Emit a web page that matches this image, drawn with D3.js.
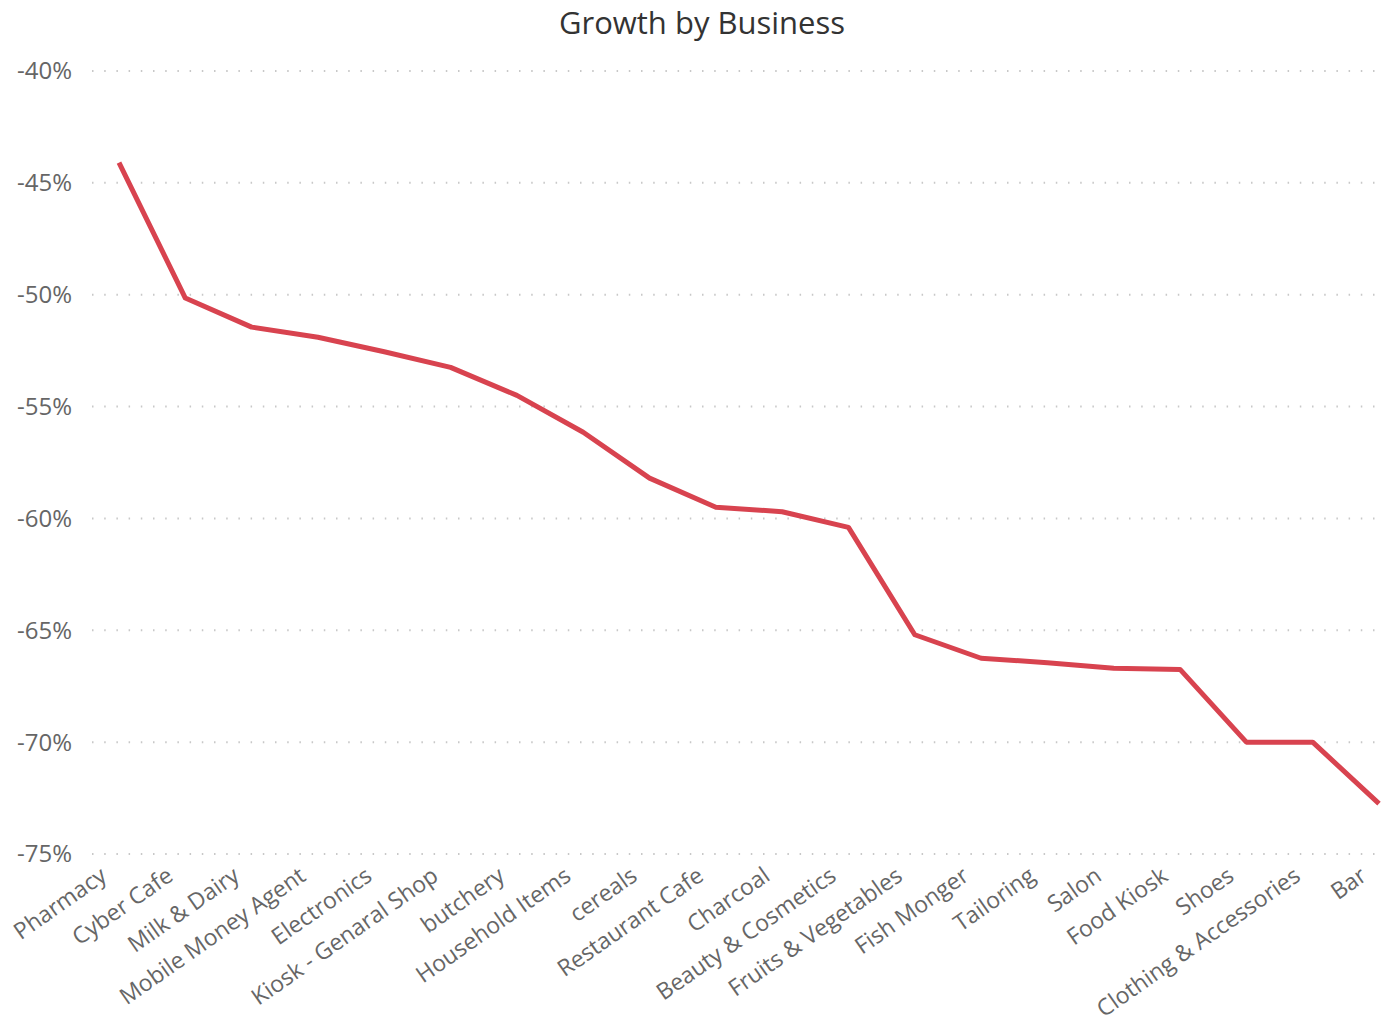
<!DOCTYPE html>
<html>
<head>
<meta charset="utf-8">
<script src="https://cdn.jsdelivr.net/npm/d3@7"></script>
<style>
	body { margin: 0; background: #fff; }
	svg { display: block; font-family: 'Open Sans', 'Noto Sans', sans-serif; }
</style>
</head>
<body>
<div id="chart"></div>
<script>
const businesses = [
	'Pharmacy', 'Cyber Cafe', 'Milk & Dairy', 'Mobile Money Agent', 'Electronics',
	'Kiosk - Genaral Shop', 'butchery', 'Household Items', 'cereals', 'Restaurant Cafe',
	'Charcoal', 'Beauty & Cosmetics', 'Fruits & Vegetables', 'Fish Monger', 'Tailoring',
	'Salon', 'Food Kiosk', 'Shoes', 'Clothing & Accessories', 'Bar',
];
const growth = [
	-44.1, -50.15, -51.45, -51.9, -52.55,
	-53.25, -54.5, -56.15, -58.2, -59.5,
	-59.7, -60.4, -65.2, -66.25, -66.45,
	-66.7, -66.75, -70.0, -70.0, -72.75,
];
const yTicks = [-40, -45, -50, -55, -60, -65, -70, -75];

const width = 1384;
const height = 1023;
const margin = { top: 71, right: 5, bottom: 169, left: 92 };

const svg = d3.select('#chart')
	.append('svg')
	.attr('width', width)
	.attr('height', height);

svg.append('text')
	.attr('x', 702)
	.attr('y', 34)
	.attr('text-anchor', 'middle')
	.attr('fill', '#333')
	.style('font-size', '31px')
	.text('Growth by Business');

const x = d3.scalePoint()
	.domain(businesses)
	.range([119, 1379]);

const y = d3.scaleLinear()
	.domain([-75, -40])
	.range([height - margin.bottom, margin.top]);

// dotted grid + y labels
const yAxisG = svg.append('g');
yAxisG.selectAll('line')
	.data(yTicks)
	.join('line')
	.attr('x1', margin.left)
	.attr('x2', width - margin.right)
	.attr('y1', (d) => y(d))
	.attr('y2', (d) => y(d))
	.attr('stroke', '#c8c8c8')
	.attr('stroke-width', 2)
	.attr('stroke-dasharray', '1.5,10.7');

yAxisG.selectAll('text')
	.data(yTicks)
	.join('text')
	.attr('x', 72)
	.attr('y', (d) => y(d))
	.attr('dy', '0.35em')
	.attr('text-anchor', 'end')
	.attr('fill', '#666')
	.style('font-size', '24px')
	.text((d) => d + '%');

// x labels
svg.append('g')
	.selectAll('text')
	.data(businesses)
	.join('text')
	.attr('text-anchor', 'end')
	.attr('fill', '#666')
	.style('font-size', '23px')
	.attr('transform', (d) => `translate(${x(d) - 20},${866}) rotate(-35)`)
	.attr('dy', '0.7em')
	.text((d) => d);

const line = d3.line()
	.x((d, i) => x(businesses[i]))
	.y((d) => y(d));

svg.append('path')
	.datum(growth)
	.attr('fill', 'none')
	.attr('stroke', '#d8434f')
	.attr('stroke-width', 5)
	.attr('stroke-linejoin', 'round')
	.attr('d', line);
</script>
</body>
</html>
